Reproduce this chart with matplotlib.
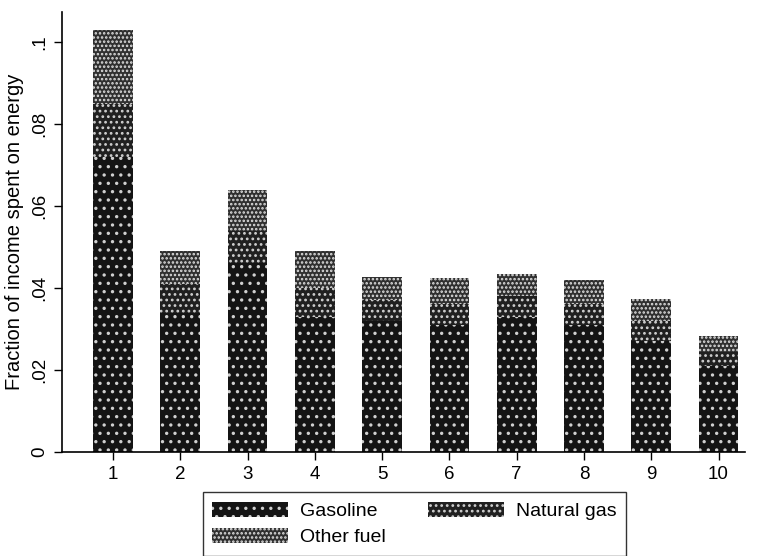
import matplotlib
matplotlib.use('Agg')
import matplotlib.pyplot as plt
import numpy as np

plt.rcParams['font.family'] = ['Liberation Sans', 'DejaVu Sans']
plt.rcParams['hatch.linewidth'] = 1.2

# Income deciles and energy shares
deciles = [1, 2, 3, 4, 5, 6, 7, 8, 9, 10]
gasoline = [0.072, 0.034, 0.046, 0.033, 0.032, 0.031, 0.033, 0.031, 0.027, 0.021]
natural_gas = [0.013, 0.007, 0.008, 0.007, 0.005, 0.005, 0.005, 0.005, 0.005, 0.0035]
other_fuel = [0.018, 0.008, 0.010, 0.009, 0.0057, 0.0064, 0.0054, 0.006, 0.0053, 0.0039]
y_ticks = [0, 0.02, 0.04, 0.06, 0.08, 0.1]
y_tick_labels = ['0', '.02', '.04', '.06', '.08', '.1']

fig = plt.figure(figsize=(7.62, 5.56), dpi=100)
ax = fig.add_axes([0.0814, 0.187, 0.896, 0.791])

x = np.array(deciles)
gas = np.array(gasoline)
ng = np.array(natural_gas)
oth = np.array(other_fuel)

plt.rcParams['hatch.color'] = 'white'
b1 = ax.bar(x, gas, width=0.59, color='#141414', edgecolor='#d0d0d0',
            linewidth=0, hatch='..', label='Gasoline')
b2 = ax.bar(x, ng, width=0.59, bottom=gas, color='#202020', edgecolor='#d0d0d0',
            linewidth=0, hatch='...', label='Natural gas')
b3 = ax.bar(x, oth, width=0.59, bottom=gas + ng, color='#303030', edgecolor='#e0e0e0',
            linewidth=0, hatch='....', label='Other fuel')

ax.set_xlim(0.243, 10.39)
ax.set_ylim(0, 0.1073)
ax.set_xticks(deciles)
ax.set_xticklabels([str(d) for d in deciles], fontsize=13.5)
ax.set_yticks(y_ticks)
ax.set_yticklabels(y_tick_labels, fontsize=13.5, rotation=90, va='center')
ax.tick_params(axis='both', direction='out', length=6, width=1, color='black', pad=4)
ax.set_ylabel('Fraction of income spent on energy', fontsize=14.5)
ax.yaxis.set_label_coords(-0.056, 0.5)

for side in ['top', 'right']:
    ax.spines[side].set_visible(False)
for side in ['left', 'bottom']:
    ax.spines[side].set_linewidth(1.2)

# column-major fill: Gasoline / Natural gas on the first row
leg = fig.legend(handles=[b1, b3, b2],
                 labels=['Gasoline', 'Other fuel', 'Natural gas'],
                 loc='upper left', bbox_to_anchor=(0.266, 0.115), ncol=2,
                 fontsize=14, frameon=True, fancybox=False, edgecolor='black',
                 handlelength=3.9, handleheight=0.8, columnspacing=2.2,
                 handletextpad=0.6, borderpad=0.5, labelspacing=0.4,
                 borderaxespad=0)
leg.get_frame().set_linewidth(1.0)

fig.savefig('out.png', dpi=100)
